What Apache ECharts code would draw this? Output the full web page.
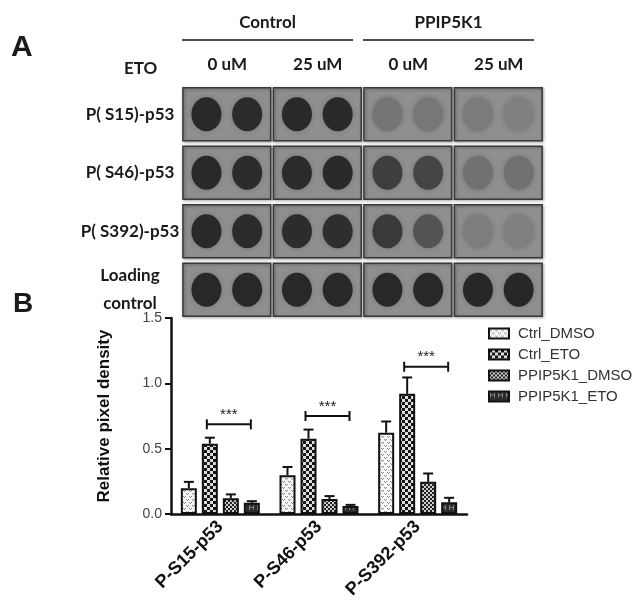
<!DOCTYPE html>
<html>
<head>
<meta charset="utf-8">
<script src="https://cdn.jsdelivr.net/npm/echarts@6/dist/echarts.min.js"></script>
<style>
  html, body { margin: 0; padding: 0; background: #fff; }
  #chart { width: 640px; height: 613px; }
</style>
</head>
<body>
<div id="chart"></div>
<script>
// ---- panel A: dot blot ----
const blotRows = ['P( S15)-p53', 'P( S46)-p53', 'P( S392)-p53', 'Loading\ncontrol'];
const blotCols = ['0 uM', '25 uM', '0 uM', '25 uM'];
const blotGroups = ['Control', 'PPIP5K1'];
const blotGroupSpan = [[0, 2], [2, 4]];
const treatmentLabel = 'ETO';
// spot darkness (0 = background, 1 = black), two spots per column
const spotS15 = [0.95, 0.93, 0.95, 0.95, 0.22, 0.2, 0.16, 0.12];
const spotS46 = [0.95, 0.93, 0.93, 0.95, 0.75, 0.68, 0.26, 0.26];
const spotS392 = [0.95, 0.93, 0.92, 0.9, 0.8, 0.55, 0.14, 0.12];
const spotLoading = [0.96, 0.96, 0.96, 0.96, 0.96, 0.96, 0.97, 0.97];
const spotRows = [spotS15, spotS46, spotS392, spotLoading];

// ---- panel B: bar chart ----
const categories = ['P-S15-p53', 'P-S46-p53', 'P-S392-p53'];
const seriesNames = ['Ctrl_DMSO', 'Ctrl_ETO', 'PPIP5K1_DMSO', 'PPIP5K1_ETO'];
const ctrlDmso = [0.198, 0.297, 0.622];
const ctrlDmsoErr = [0.048, 0.063, 0.086];
const ctrlEto = [0.538, 0.576, 0.92];
const ctrlEtoErr = [0.046, 0.07, 0.125];
const ppipDmso = [0.12, 0.114, 0.246];
const ppipDmsoErr = [0.03, 0.023, 0.064];
const ppipEto = [0.086, 0.061, 0.089];
const ppipEtoErr = [0.012, 0.009, 0.035];
const sigLevel = [0.686, 0.75, 1.127];
const sigLabels = ['***', '***', '***'];

const BAR_W = 16, BAR_GAP = 5;
const boldA = 'Lato';
const sans = 'Liberation Sans, Arial, sans-serif';

function makePattern(size, paint) {
  const c = document.createElement('canvas');
  c.width = c.height = size;
  const ctx = c.getContext('2d');
  paint(ctx, size);
  return { image: c, repeat: 'repeat' };
}

const fills = [
  makePattern(6, (g, s) => {
    g.fillStyle = '#f6f6f6'; g.fillRect(0, 0, s, s);
    g.fillStyle = '#8a8a8a';
    g.fillRect(0, 1, 1, 1); g.fillRect(1, 2, 1, 1); g.fillRect(2, 1, 1, 1);
    g.fillRect(3, 4, 1, 1); g.fillRect(4, 5, 1, 1); g.fillRect(5, 4, 1, 1);
  }),
  makePattern(6, (g, s) => {
    g.fillStyle = '#dedede'; g.fillRect(0, 0, s, s);
    g.fillStyle = '#161616';
    g.fillRect(0, 0, 3, 3); g.fillRect(3, 3, 3, 3);
  }),
  makePattern(4, (g, s) => {
    g.fillStyle = '#cfcfcf'; g.fillRect(0, 0, s, s);
    g.fillStyle = '#222';
    g.fillRect(0, 0, 2, 2); g.fillRect(2, 2, 2, 2);
  }),
  makePattern(8, (g, s) => {
    g.fillStyle = '#2c2c2c'; g.fillRect(0, 0, s, s);
    g.fillStyle = '#808080';
    g.fillRect(1, 1, 1, 5); g.fillRect(5, 1, 1, 5); g.fillRect(1, 3, 5, 1);
  })
];

const barValues = [ctrlDmso, ctrlEto, ppipDmso, ppipEto];
const barErrors = [ctrlDmsoErr, ctrlEtoErr, ppipDmsoErr, ppipEtoErr];

const spotData = [];
spotRows.forEach((row, r) => {
  row.forEach((v, k) => {
    spotData.push([Math.floor(k / 2) + (k % 2 ? 0.72 : 0.27), r, v]);
  });
});

const boxData = [];
for (let r = 0; r < blotRows.length; r++) {
  for (let c = 0; c < blotCols.length; c++) boxData.push([c + 0.5, r]);
}

const errData = [];
barValues.forEach((vals, si) => {
  vals.forEach((v, ci) => errData.push([ci, v, barErrors[si][ci], si]));
});

const sigData = sigLevel.map((v, i) => [i, v]);

const chart = echarts.init(document.getElementById('chart'));

const option = {
  backgroundColor: '#fff',
  animation: false,
  title: [
    { text: 'A', left: 6, top: 28, textStyle: { fontFamily: sans, fontWeight: 'bold', fontSize: 30, color: '#1a1a1a' } },
    { text: 'B', left: 8, top: 285, textStyle: { fontFamily: sans, fontWeight: 'bold', fontSize: 28, color: '#1a1a1a' } },
    { text: treatmentLabel, left: 119, top: 55, textStyle: { fontFamily: boldA, fontWeight: 'bold', fontSize: 17, color: '#1a1a1a' } }
  ],
  grid: [
    { left: 182, top: 85, width: 362, height: 234 },
    { left: 171, top: 318, width: 296, height: 196 }
  ],
  legend: {
    data: seriesNames,
    orient: 'vertical',
    left: 483,
    top: 321,
    icon: 'rect',
    itemWidth: 20,
    itemHeight: 10,
    itemGap: 6,
    textStyle: { fontFamily: sans, fontSize: 15, color: '#333', padding: [0, 0, 0, 4] }
  },
  visualMap: {
    show: false,
    type: 'continuous',
    seriesIndex: 1,
    dimension: 2,
    min: 0,
    max: 1,
    inRange: { color: ['#8c8c8c', '#242424'] }
  },
  xAxis: [
    {
      type: 'category', gridIndex: 0, position: 'top', data: blotCols,
      axisLine: { show: false }, axisTick: { show: false },
      axisLabel: { fontFamily: boldA, fontWeight: 'bold', fontSize: 17, color: '#1a1a1a', margin: 12 }
    },
    { type: 'value', gridIndex: 0, min: 0, max: 4, show: false },
    {
      type: 'category', gridIndex: 1, data: categories,
      axisLine: { lineStyle: { color: '#111', width: 2.5 } },
      axisTick: { alignWithLabel: true, length: 6, lineStyle: { color: '#111', width: 2 } },
      axisLabel: { rotate: 45, fontFamily: sans, fontWeight: 'bold', fontSize: 18, color: '#111', margin: 10 }
    }
  ],
  yAxis: [
    {
      type: 'category', gridIndex: 0, inverse: true, data: blotRows,
      axisLine: { show: false }, axisTick: { show: false },
      axisLabel: { fontFamily: boldA, fontWeight: 'bold', fontSize: 17, color: '#1a1a1a', align: 'center', margin: 52, lineHeight: 28 }
    },
    {
      type: 'value', gridIndex: 1, min: 0, max: 1.5, interval: 0.5,
      axisLine: { show: true, lineStyle: { color: '#111', width: 2.5 } },
      axisTick: { show: true, length: 6, lineStyle: { color: '#111', width: 2 } },
      splitLine: { show: false },
      axisLabel: { fontFamily: sans, fontSize: 14, color: '#444', margin: 9, formatter: v => v.toFixed(1) },
      name: 'Relative pixel density', nameLocation: 'middle', nameGap: 58,
      nameTextStyle: { fontFamily: sans, fontWeight: 'bold', fontSize: 17, color: '#111' }
    }
  ],
  series: [
    {
      // blot membrane pieces
      type: 'custom', xAxisIndex: 1, yAxisIndex: 0, data: boxData, z: 1,
      encode: { x: 0, y: 1 },
      renderItem: (params, api) => {
        const c = api.value(0) - 0.5, r = api.value(1);
        const x1 = api.coord([c + 0.01, r])[0];
        const x2 = api.coord([c + 0.98, r])[0];
        const cy = api.coord([0, r])[1];
        const h = api.size([0, 1])[1] * 0.91;
        return {
          type: 'rect',
          shape: { x: x1, y: cy - h / 2, width: x2 - x1, height: h },
          style: { fill: '#8f8f8f', stroke: '#3a3a3a', lineWidth: 1.5,
                   shadowBlur: 3, shadowOffsetX: 1, shadowOffsetY: 1, shadowColor: 'rgba(0,0,0,0.35)' }
        };
      }
    },
    {
      type: 'scatter', xAxisIndex: 1, yAxisIndex: 0, data: spotData, z: 3,
      symbol: 'circle', symbolSize: [30, 34],
      itemStyle: { opacity: 1, shadowBlur: 5, shadowColor: 'rgba(60,60,60,0.3)' }
    },
    {
      // group headers above the blot
      type: 'custom', xAxisIndex: 1, yAxisIndex: 0, data: blotGroupSpan, z: 3,
      encode: { x: [0, 1] },
      renderItem: (params, api) => {
        const s = api.value(0), e = api.value(1);
        const x1 = api.coord([s, 0])[0];
        const x2 = api.coord([e - 0.11, 0])[0];
        const top = api.coord([0, 0])[1] - api.size([0, 1])[1] / 2;
        return {
          type: 'group',
          children: [
            { type: 'line', shape: { x1: x1, y1: top - 45, x2: x2, y2: top - 45 }, style: { stroke: '#111', lineWidth: 1.5 } },
            { type: 'text', style: { text: blotGroups[params.dataIndex], x: (x1 + x2) / 2, y: top - 62,
              textAlign: 'center', textVerticalAlign: 'middle',
              font: 'bold 17px ' + boldA, fill: '#1a1a1a' } }
          ]
        };
      }
    },
    ...seriesNames.map((name, si) => ({
      name: name, type: 'bar', xAxisIndex: 2, yAxisIndex: 1,
      data: barValues[si], barWidth: BAR_W, barGap: (BAR_GAP / BAR_W * 100) + '%',
      itemStyle: { color: fills[si], borderColor: '#111', borderWidth: 2 },
      z: 2
    })),
    {
      // error bars (upper only)
      type: 'custom', xAxisIndex: 2, yAxisIndex: 1, data: errData, z: 1,
      encode: { x: 0, y: 1 },
      renderItem: (params, api) => {
        const ci = api.value(0), v = api.value(1), e = api.value(2), si = api.value(3);
        const p = api.coord([ci, v]);
        const x = p[0] + (si - 1.5) * (BAR_W + BAR_GAP);
        const yt = api.coord([ci, v + e])[1];
        const st = { stroke: '#111', lineWidth: 2 };
        return {
          type: 'group',
          children: [
            { type: 'line', shape: { x1: x, y1: p[1], x2: x, y2: yt }, style: st },
            { type: 'line', shape: { x1: x - 5, y1: yt, x2: x + 5, y2: yt }, style: st }
          ]
        };
      }
    },
    {
      // significance brackets
      type: 'custom', xAxisIndex: 2, yAxisIndex: 1, data: sigData, z: 3,
      encode: { x: 0, y: 1 },
      renderItem: (params, api) => {
        const ci = api.value(0), v = api.value(1);
        const p = api.coord([ci, v]);
        const x1 = p[0] + (1 - 1.5) * (BAR_W + BAR_GAP) - 3;
        const x2 = p[0] + (3 - 1.5) * (BAR_W + BAR_GAP) - 1;
        const st = { stroke: '#111', lineWidth: 2 };
        return {
          type: 'group',
          children: [
            { type: 'line', shape: { x1: x1, y1: p[1], x2: x2, y2: p[1] }, style: st },
            { type: 'line', shape: { x1: x1, y1: p[1] - 5, x2: x1, y2: p[1] + 5 }, style: st },
            { type: 'line', shape: { x1: x2, y1: p[1] - 5, x2: x2, y2: p[1] + 5 }, style: st },
            { type: 'text', style: { text: sigLabels[params.dataIndex], x: (x1 + x2) / 2, y: p[1] - 2,
              textAlign: 'center', textVerticalAlign: 'bottom', font: '15px ' + sans, fill: '#222' } }
          ]
        };
      }
    }
  ]
};

chart.setOption(option);
</script>
</body>
</html>
